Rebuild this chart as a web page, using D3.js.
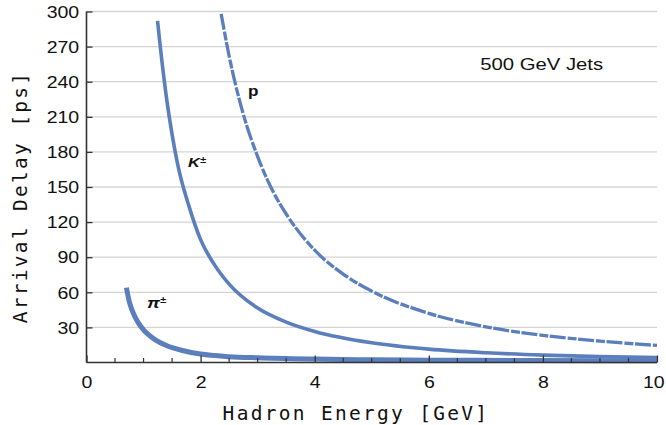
<!DOCTYPE html>
<html>
<head>
    <meta charset="utf-8">
    <script src="https://d3js.org/d3.v7.min.js"></script>
    <style>
        body { margin: 0; background: #fff; }
        svg { display: block; }
    </style>
</head>
<body>
    <div id="chart"></div>
    <script>
        // values (energy in GeV, delay in ps)
        var pionE    = [0.70, 0.75, 0.80, 0.90, 1.0, 1.2, 1.4, 1.7, 2.0, 2.5, 3.0, 4.0, 5.0, 6.0, 8.0, 10.0];
        var pionT    = [64, 52, 44.5, 34.5, 27.8, 19.6, 14.5, 10.0, 7.2, 5.0, 4.0, 2.9, 2.3, 2.0, 1.7, 1.5];
        var kaonE    = [1.245, 1.3, 1.4, 1.5, 1.6, 1.8, 2.0, 2.25, 2.5, 3.0, 3.5, 4.0, 5.0, 6.0, 7.0, 8.0, 9.0, 10.0];
        var kaonT    = [292, 267, 227, 195, 169, 133, 105, 83, 67, 46.5, 34.5, 26.5, 16.8, 11.4, 8.3, 6.3, 5.0, 4.2];
        var protonE  = [2.36, 2.5, 2.75, 3.0, 3.25, 3.5, 4.0, 4.5, 5.0, 6.0, 7.0, 8.0, 9.0, 10.0];
        var protonT  = [298, 262, 212, 176, 148, 127, 96, 75.5, 61, 42, 30.5, 23.2, 18.3, 14.6];
        var xTicks = [0, 2, 4, 6, 8, 10];
        var xMinor = [0.5, 1, 1.5, 2.5, 3, 3.5, 4.5, 5, 5.5, 6.5, 7, 7.5, 8.5, 9, 9.5];
        var yTicks = [30, 60, 90, 120, 150, 180, 210, 240, 270, 300];

        var width = 666, height = 425;
        var blue = "#5b7ebd";
        var stretch = 1.22;   // the tick fonts look horizontally widened

        var svg = d3.select("#chart")
            .append("svg")
            .attr("width", width)
            .attr("height", height);

        var x = d3.scaleLinear().domain([0, 10]).range([86.5, 657]);
        var y = d3.scaleLinear().domain([0, 300]).range([362.5, 11.5]);

        // grid
        svg.append("g")
            .selectAll("line")
            .data(yTicks)
            .enter()
            .append("line")
            .attr("x1", x(0))
            .attr("x2", x(10))
            .attr("y1", function(d) { return y(d); })
            .attr("y2", function(d) { return y(d); })
            .style("stroke", "#d4d4d4")
            .style("stroke-width", 1.3);

        // curves
        var line = d3.line()
            .x(function(d) { return x(d[0]); })
            .y(function(d) { return y(d[1]); })
            .curve(d3.curveMonotoneX);

        function series(es, ts) {
            return es.map(function(e, i) { return [e, ts[i]]; });
        }

        svg.append("path")
            .datum(series(pionE, pionT))
            .attr("d", line)
            .style("fill", "none")
            .style("stroke", blue)
            .style("stroke-width", 5);

        svg.append("path")
            .datum(series(kaonE, kaonT))
            .attr("d", line)
            .style("fill", "none")
            .style("stroke", blue)
            .style("stroke-width", 3.6);

        svg.append("path")
            .datum(series(protonE, protonT))
            .attr("d", line)
            .style("fill", "none")
            .style("stroke", blue)
            .style("stroke-width", 3.3)
            .style("stroke-dasharray", "16 2 9 1.5");

        // axes
        var xAxis = svg.append("g")
            .attr("transform", "translate(0," + y(0) + ")")
            .call(d3.axisBottom(x).tickValues(xTicks).tickSize(-7).tickPadding(14).tickFormat(d3.format("d")));

        svg.append("g")
            .attr("transform", "translate(0," + y(0) + ")")
            .selectAll("line")
            .data(xMinor)
            .enter()
            .append("line")
            .attr("x1", function(d) { return x(d); })
            .attr("x2", function(d) { return x(d); })
            .attr("y1", 0)
            .attr("y2", -4.5)
            .style("stroke", "#333")
            .style("stroke-width", 1.2);

        var yAxis = svg.append("g")
            .attr("transform", "translate(" + x(0) + ",0)")
            .call(d3.axisLeft(y).tickValues(yTicks).tickSize(-6).tickPadding(6));

        [xAxis, yAxis].forEach(function(a) {
            a.select(".domain").style("stroke", "#333").style("stroke-width", 1.6);
            a.selectAll(".tick line").style("stroke", "#333").style("stroke-width", 1.3);
            a.selectAll(".tick text")
                .style("font-family", "'Liberation Sans', Arial, sans-serif")
                .style("font-size", "16px")
                .style("fill", "#111");
        });
        xAxis.selectAll(".tick text")
            .attr("dx", function(d) { return d === 10 ? -3 : 0; })
            .attr("transform", "scale(" + stretch + ",1)");
        yAxis.selectAll(".tick text")
            .attr("dy", "0.36em")
            .attr("transform", "scale(" + stretch + ",1)");
        yAxis.select(".domain").attr("d", "M0," + y(300) + "V" + y(0));
        xAxis.select(".domain").attr("d", "M" + x(0) + ",0H" + x(10));

        // axis titles
        svg.append("text")
            .attr("x", 356)
            .attr("y", 420)
            .attr("text-anchor", "middle")
            .style("font-family", "'DejaVu Sans Mono', monospace")
            .style("font-size", "19.5px")
            .style("letter-spacing", "2.3px")
            .style("fill", "#111")
            .text("Hadron Energy [GeV]");

        svg.append("text")
            .attr("transform", "translate(27,197) rotate(-90)")
            .attr("text-anchor", "middle")
            .style("font-family", "'DejaVu Sans Mono', monospace")
            .style("font-size", "19.5px")
            .style("letter-spacing", "2.3px")
            .style("fill", "#111")
            .text("Arrival Delay [ps]");

        // annotations
        function note(xv, yv, size, sx) {
            return svg.append("text")
                .attr("transform", "translate(" + x(xv) + "," + y(yv) + ") scale(" + (sx || stretch) + ",1)")
                .style("font-family", "'Liberation Sans', Arial, sans-serif")
                .style("font-size", size + "px")
                .style("fill", "#111");
        }

        note(6.9, 249.7, 16, 1.27).text("500 GeV Jets");

        note(2.83, 227.6, 14).style("font-weight", "bold").text("p");

        var k = note(1.78, 166.7, 13.5).style("font-weight", "bold").style("font-style", "italic");
        k.append("tspan").text("K");
        k.append("tspan").attr("dy", -4).style("font-size", "9px").text("±");

        var pi = note(1.06, 46.7, 15).style("font-weight", "bold").style("font-style", "italic");
        pi.append("tspan").text("π");
        pi.append("tspan").attr("dy", -5).style("font-size", "9px").text("±");
    </script>
</body>
</html>
